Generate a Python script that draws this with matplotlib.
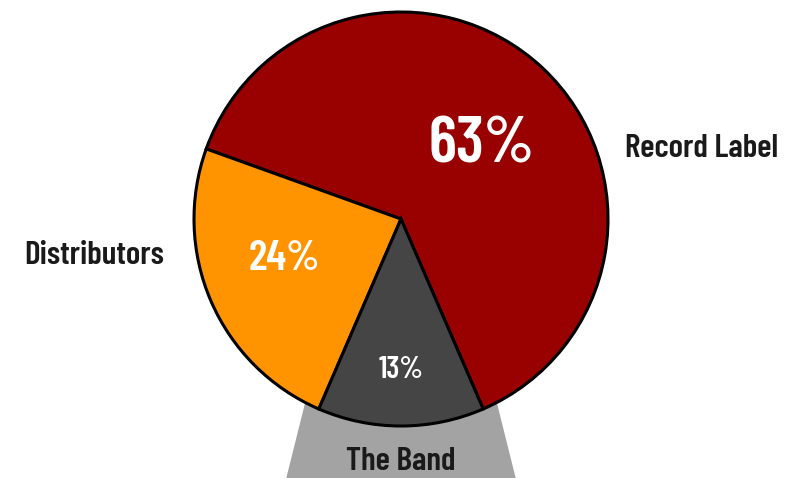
import numpy as np
import matplotlib.pyplot as plt
from matplotlib.patches import Polygon
from matplotlib import font_manager

# data
groups = ['Record Label', 'Distributors', 'The Band']
shares = [63, 24, 13]
colors = ['#990000', '#ff9400', '#454545']

W, H = 785, 478
fig = plt.figure(figsize=(W / 100, H / 100), dpi=100)
ax = fig.add_axes([0, 0, 1, 1])

# condensed font, first one that is installed
names = {f.name for f in font_manager.fontManager.ttflist}
font = next((n for n in ['Barlow Condensed', 'Roboto Condensed', 'Oswald', 'Asap Condensed']
             if n in names), 'DejaVu Sans')

cx, cy, r = 401, H - 219, 207
# start so that the band slice sits centred at the bottom
start = 270 + shares[2] / 100 * 360 / 2
wedges, _ = ax.pie(shares, colors=colors, startangle=start, center=(cx, cy), radius=r,
                   wedgeprops=dict(edgecolor='black', linewidth=2.2))
for w in wedges:
    w.set_zorder(3)

# gray stand under the band slice
band = wedges[2]
a1, a2 = np.radians(band.theta1), np.radians(band.theta2)
x1, y1 = cx + r * np.cos(a1), cy + r * np.sin(a1)
x2, y2 = cx + r * np.cos(a2), cy + r * np.sin(a2)
stand = Polygon([(x1 - 12, y1 + 10), (x2 + 12, y2 + 10), (x2 + 33, -5), (x1 - 33, -5)],
                closed=True, color='#a3a3a3', zorder=1)
ax.add_patch(stand)

ax.set_xlim(0, W)
ax.set_ylim(0, H)
ax.set_aspect('equal')
ax.axis('off')

# percentage labels inside the slices
pct_pos = [(482, 146, 47), (284, 259, 31), (401, 370, 22)]
for (px, py, fs), v in zip(pct_pos, shares):
    ax.text(px, H - py, f'{v}%', color='white', fontsize=fs, fontweight='semibold',
            family=font, ha='center', va='center', zorder=5)

# category labels
lab = dict(fontsize=24, fontweight='semibold', family=font, ha='center', va='center',
           color='#1a1a1a')
ax.text(702, H - 148, groups[0], **lab)
ax.text(94, H - 256, groups[1], **lab)
ax.text(401, H - 461, groups[2], zorder=2, **lab)

fig.savefig('out.png', dpi=100)
